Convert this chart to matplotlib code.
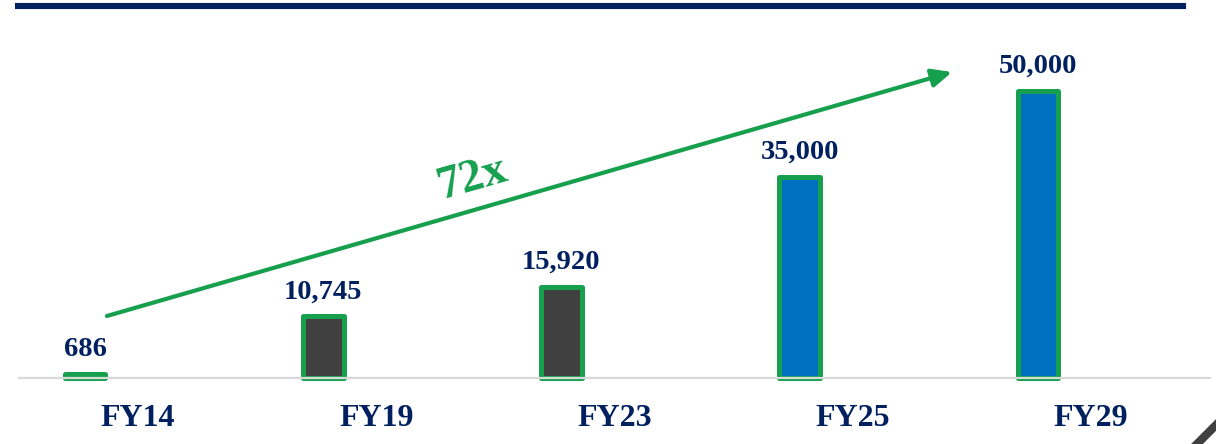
import matplotlib
matplotlib.use("Agg")
import matplotlib.pyplot as plt
from matplotlib.lines import Line2D
from matplotlib.transforms import ScaledTranslation

years = ["FY14", "FY19", "FY23", "FY25", "FY29"]
values = [686, 10745, 15920, 35000, 50000]
bar_colors = ["#16a04e", "#404040", "#404040", "#0070c0", "#0070c0"]
growth_label = "72x"

navy = "#002060"
green = "#16a04e"

plt.rcParams["font.family"] = ["Liberation Serif", "DejaVu Serif"]
plt.rcParams["font.weight"] = "bold"

fig = plt.figure(figsize=(12.16, 4.44), dpi=100)
W, H = 1216, 444
# axes: baseline at pixel y=378, plot spans x 19..1210
ax = fig.add_axes([19 / W, (H - 378) / H, 1191 / W, 378 / H])

x = list(range(len(years)))
bars = ax.bar(x, values, width=0.172, color=bar_colors, edgecolor=green,
              linewidth=3.6, joinstyle="round", clip_on=False, zorder=2)

for xi, v in zip(x, values):
    ax.annotate(f"{v:,}", (xi, v), xytext=(0, 13), textcoords="offset points",
                ha="center", va="baseline", fontsize=20.5,
                fontweight="bold", color=navy)

ax.set_xlim((19 - 85) / 238.25, (1210 - 85) / 238.25)
ax.set_ylim(0, 378 / 287 * 50000)

ax.set_xticks(x)
ax.set_xticklabels(years, fontsize=23, fontweight="bold", color=navy)
ax.tick_params(axis="x", length=0, pad=19)
ax.set_yticks([])
# category labels sit to the right of their bars in the original slide
for lbl in ax.get_xticklabels():
    lbl.set_transform(lbl.get_transform() + ScaledTranslation(0.53, 0, fig.dpi_scale_trans))

for side in ["top", "left", "right"]:
    ax.spines[side].set_visible(False)
ax.spines["bottom"].set_color("#d9d9d9")
ax.spines["bottom"].set_linewidth(1.6)
ax.spines["bottom"].set_zorder(3)

# growth arrow
ax.annotate("", xy=(3.639, 53300), xytext=(0.092, 10800),
            arrowprops=dict(arrowstyle="-|>,head_length=1.2,head_width=0.55",
                            color=green, lw=3, shrinkA=0, shrinkB=0,
                            mutation_scale=10))
ax.text(1.624, 34800, growth_label, rotation=16, ha="center", va="center",
        fontsize=34, fontweight="bold", color=green, rotation_mode="anchor")

# slide decorations
fig.add_artist(Line2D([18 / W, 1183 / W], [1 - 6.3 / H, 1 - 6.3 / H],
                      color=navy, lw=4.4, transform=fig.transFigure))
fig.add_artist(Line2D([1193 / W, 1220 / W], [-4 / H, 23 / H],
                      color="#404040", lw=6, transform=fig.transFigure))

fig.savefig("out.png", dpi=100)
